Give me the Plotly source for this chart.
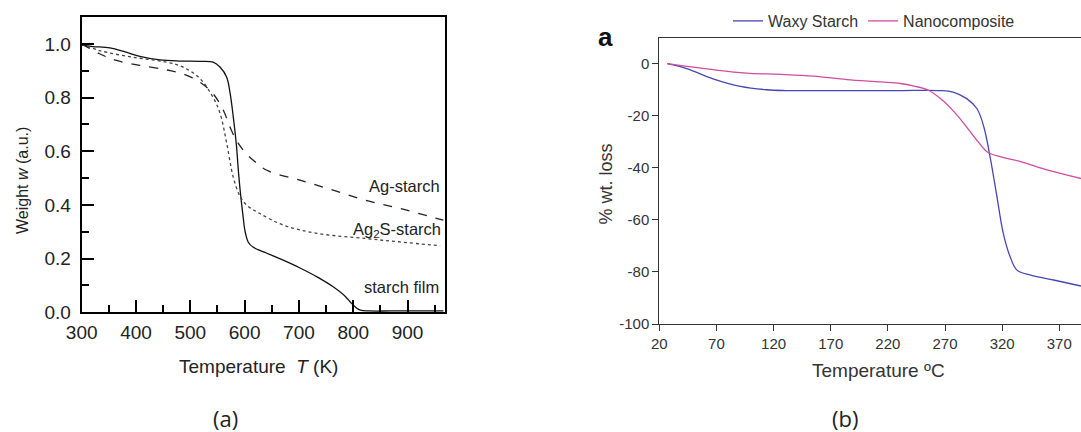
import plotly.graph_objects as go

# ---- Panel (a) data: temperature (K) vs weight (a.u.)
starch_T = [300, 320, 352, 380, 407, 444, 480, 518, 542, 555, 567, 573, 579, 585, 588, 592, 597, 601, 607, 616, 641, 670, 702, 735, 763, 785, 796, 805, 813, 830, 870, 920, 966]
starch_w = [0.995, 0.99, 0.985, 0.97, 0.953, 0.94, 0.936, 0.935, 0.932, 0.913, 0.876, 0.82, 0.73, 0.62, 0.54, 0.45, 0.36, 0.30, 0.26, 0.242, 0.22, 0.195, 0.165, 0.13, 0.095, 0.06, 0.035, 0.018, 0.008, 0.005, 0.005, 0.005, 0.005]

ag_T = [300, 333, 364, 407, 456, 487, 518, 542, 561, 573, 585, 598, 616, 641, 702, 763, 823, 886, 966]
ag_w = [1.0, 0.963, 0.938, 0.92, 0.903, 0.888, 0.857, 0.814, 0.752, 0.69, 0.64, 0.603, 0.566, 0.529, 0.492, 0.455, 0.417, 0.387, 0.343]

ag2s_T = [300, 333, 395, 456, 487, 518, 542, 555, 567, 579, 592, 604, 628, 671, 733, 823, 886, 960]
ag2s_w = [1.0, 0.975, 0.95, 0.932, 0.913, 0.87, 0.80, 0.74, 0.63, 0.504, 0.43, 0.399, 0.368, 0.325, 0.294, 0.275, 0.262, 0.248]

a_xticks = [300, 400, 500, 600, 700, 800, 900]
a_yticks = [0, 0.2, 0.4, 0.6, 0.8, 1.0]
a_ylabels = ["0.0", "0.2", "0.4", "0.6", "0.8", "1.0"]

# ---- Panel (b) data: temperature (C) vs % wt. loss
waxy_T = [27, 44, 67, 91, 114, 130, 180, 230, 266, 277, 289, 298, 304, 310, 315, 321, 327, 333, 345, 365, 389]
waxy_L = [0, -1.9, -5.8, -8.7, -10.0, -10.3, -10.3, -10.3, -10.3, -10.9, -13.4, -17.3, -24.3, -37.1, -49.9, -65.2, -74.2, -79.3, -81.2, -83.1, -85.4]

nano_T = [27, 44, 67, 96, 126, 155, 184, 214, 231, 243, 255, 266, 278, 290, 299, 307, 319, 337, 360, 389]
nano_L = [0, -1.0, -2.3, -3.6, -4.1, -4.8, -6.1, -7.0, -7.6, -8.6, -10.1, -13.4, -18.5, -24.9, -30.0, -33.9, -35.8, -37.7, -40.9, -44.1]

b_xticks = [20, 70, 120, 170, 220, 270, 320, 370]
b_yticks = [0, -20, -40, -60, -80, -100]
b_ylabels = ["0", "-20", "-40", "-60", "-80", "-100"]

W, H = 1081, 432
def px(x): return x / W
def py(y): return (H - y) / H

fig = go.Figure()

lw = 1.3
fig.add_trace(go.Scatter(x=starch_T, y=starch_w, mode="lines", line=dict(color="#111", width=lw, shape="spline"),
                         xaxis="x", yaxis="y", showlegend=False))
fig.add_trace(go.Scatter(x=ag_T, y=ag_w, mode="lines", line=dict(color="#222", width=lw, dash="dash", shape="spline"),
                         xaxis="x", yaxis="y", showlegend=False))
fig.add_trace(go.Scatter(x=ag2s_T, y=ag2s_w, mode="lines", line=dict(color="#444", width=lw, dash="dot", shape="spline"),
                         xaxis="x", yaxis="y", showlegend=False))

fig.add_trace(go.Scatter(x=waxy_T, y=waxy_L, mode="lines", name="Waxy Starch",
                         line=dict(color="#4646b4", width=1.3, shape="spline"), xaxis="x2", yaxis="y2"))
fig.add_trace(go.Scatter(x=nano_T, y=nano_L, mode="lines", name="Nanocomposite",
                         line=dict(color="#d04c9e", width=1.3, shape="spline"), xaxis="x2", yaxis="y2"))

font_a = "Liberation Sans, Arial, sans-serif"

def ann(text, x, y, size, color="#222", xanchor="center", angle=0, family=None):
    d = dict(text=text, x=px(x), y=py(y), xref="paper", yref="paper", xanchor=xanchor,
             yanchor="middle", showarrow=False, textangle=angle, font=dict(size=size, color=color))
    if family:
        d["font"]["family"] = family
    return d

fig.update_layout(
    width=W, height=H, margin=dict(l=0, r=0, t=0, b=0, autoexpand=False),
    paper_bgcolor="white", plot_bgcolor="white",
    font=dict(family=font_a, color="#333"),
    xaxis=dict(domain=[px(81.7), px(445)], range=[300, 969], showline=True, mirror=True,
               linecolor="black", linewidth=2, showgrid=False, zeroline=False, automargin=False,
               ticks="inside", ticklen=12, tickwidth=2, tickcolor="black",
               tickvals=a_xticks, ticklabelstandoff=2,
               minor=dict(ticks="inside", ticklen=7, tickwidth=2, tickcolor="black", dtick=50, tick0=300),
               tickfont=dict(size=19, color="#222"), anchor="y"),
    yaxis=dict(domain=[py(312.3), py(17)], range=[0, 1.1], showline=True, mirror=True,
               linecolor="black", linewidth=2, showgrid=False, zeroline=False, automargin=False,
               ticks="inside", ticklen=12, tickwidth=2, tickcolor="black",
               tickvals=a_yticks, ticktext=a_ylabels, ticklabelstandoff=5,
               minor=dict(ticks="inside", ticklen=7, tickwidth=2, tickcolor="black", dtick=0.1, tick0=0),
               tickfont=dict(size=19, color="#222"), anchor="x"),
    xaxis2=dict(domain=[px(659.3), 1.0], range=[20, 389], showline=True, mirror=True,
                linecolor="#333", linewidth=1, showgrid=False, zeroline=False, automargin=False,
                ticks="outside", ticklen=6, tickcolor="#333",
                tickvals=b_xticks, tickfont=dict(size=15, color="#333"), anchor="y2"),
    yaxis2=dict(domain=[py(324), py(37.7)], range=[-100, 10], showline=True, mirror=False,
                linecolor="#333", linewidth=1, showgrid=False, zeroline=False, automargin=False,
                ticks="outside", ticklen=6, tickcolor="#333",
                tickvals=b_yticks, ticktext=b_ylabels, tickfont=dict(size=15, color="#333"), anchor="x2"),
    legend=dict(orientation="h", x=px(728), y=py(4), xanchor="left", yanchor="top",
                font=dict(size=16, color="#333"), bgcolor="rgba(0,0,0,0)"),
    annotations=[
        ann("Weight <i>w</i> (a.u.)", 22, 181, 16, angle=-90),
        ann("Temperature  <i>T</i> (K)", 258, 366, 19),
        ann("Ag-starch", 441.5, 186, 16.5, xanchor="right"),
        ann("Ag<sub>2</sub>S-starch", 443, 230, 16.5, xanchor="right"),
        ann("starch film", 441, 287, 16.5, xanchor="right"),
        ann("% wt. loss", 605, 184.5, 18, color="#333", angle=-90),
        ann("Temperature ºC", 878, 370, 19, color="#333"),
        ann("<b>a</b>", 605, 37, 26, color="#111"),
        ann("(a)", 225, 418, 22, family="Open Sans"),
        ann("(b)", 845, 418, 22, family="Open Sans"),
    ],
)

fig.write_html("out.html", config={"displayModeBar": False},
               post_script="document.body.style.margin='0px';document.body.style.padding='0px';document.body.style.overflow='hidden';")
